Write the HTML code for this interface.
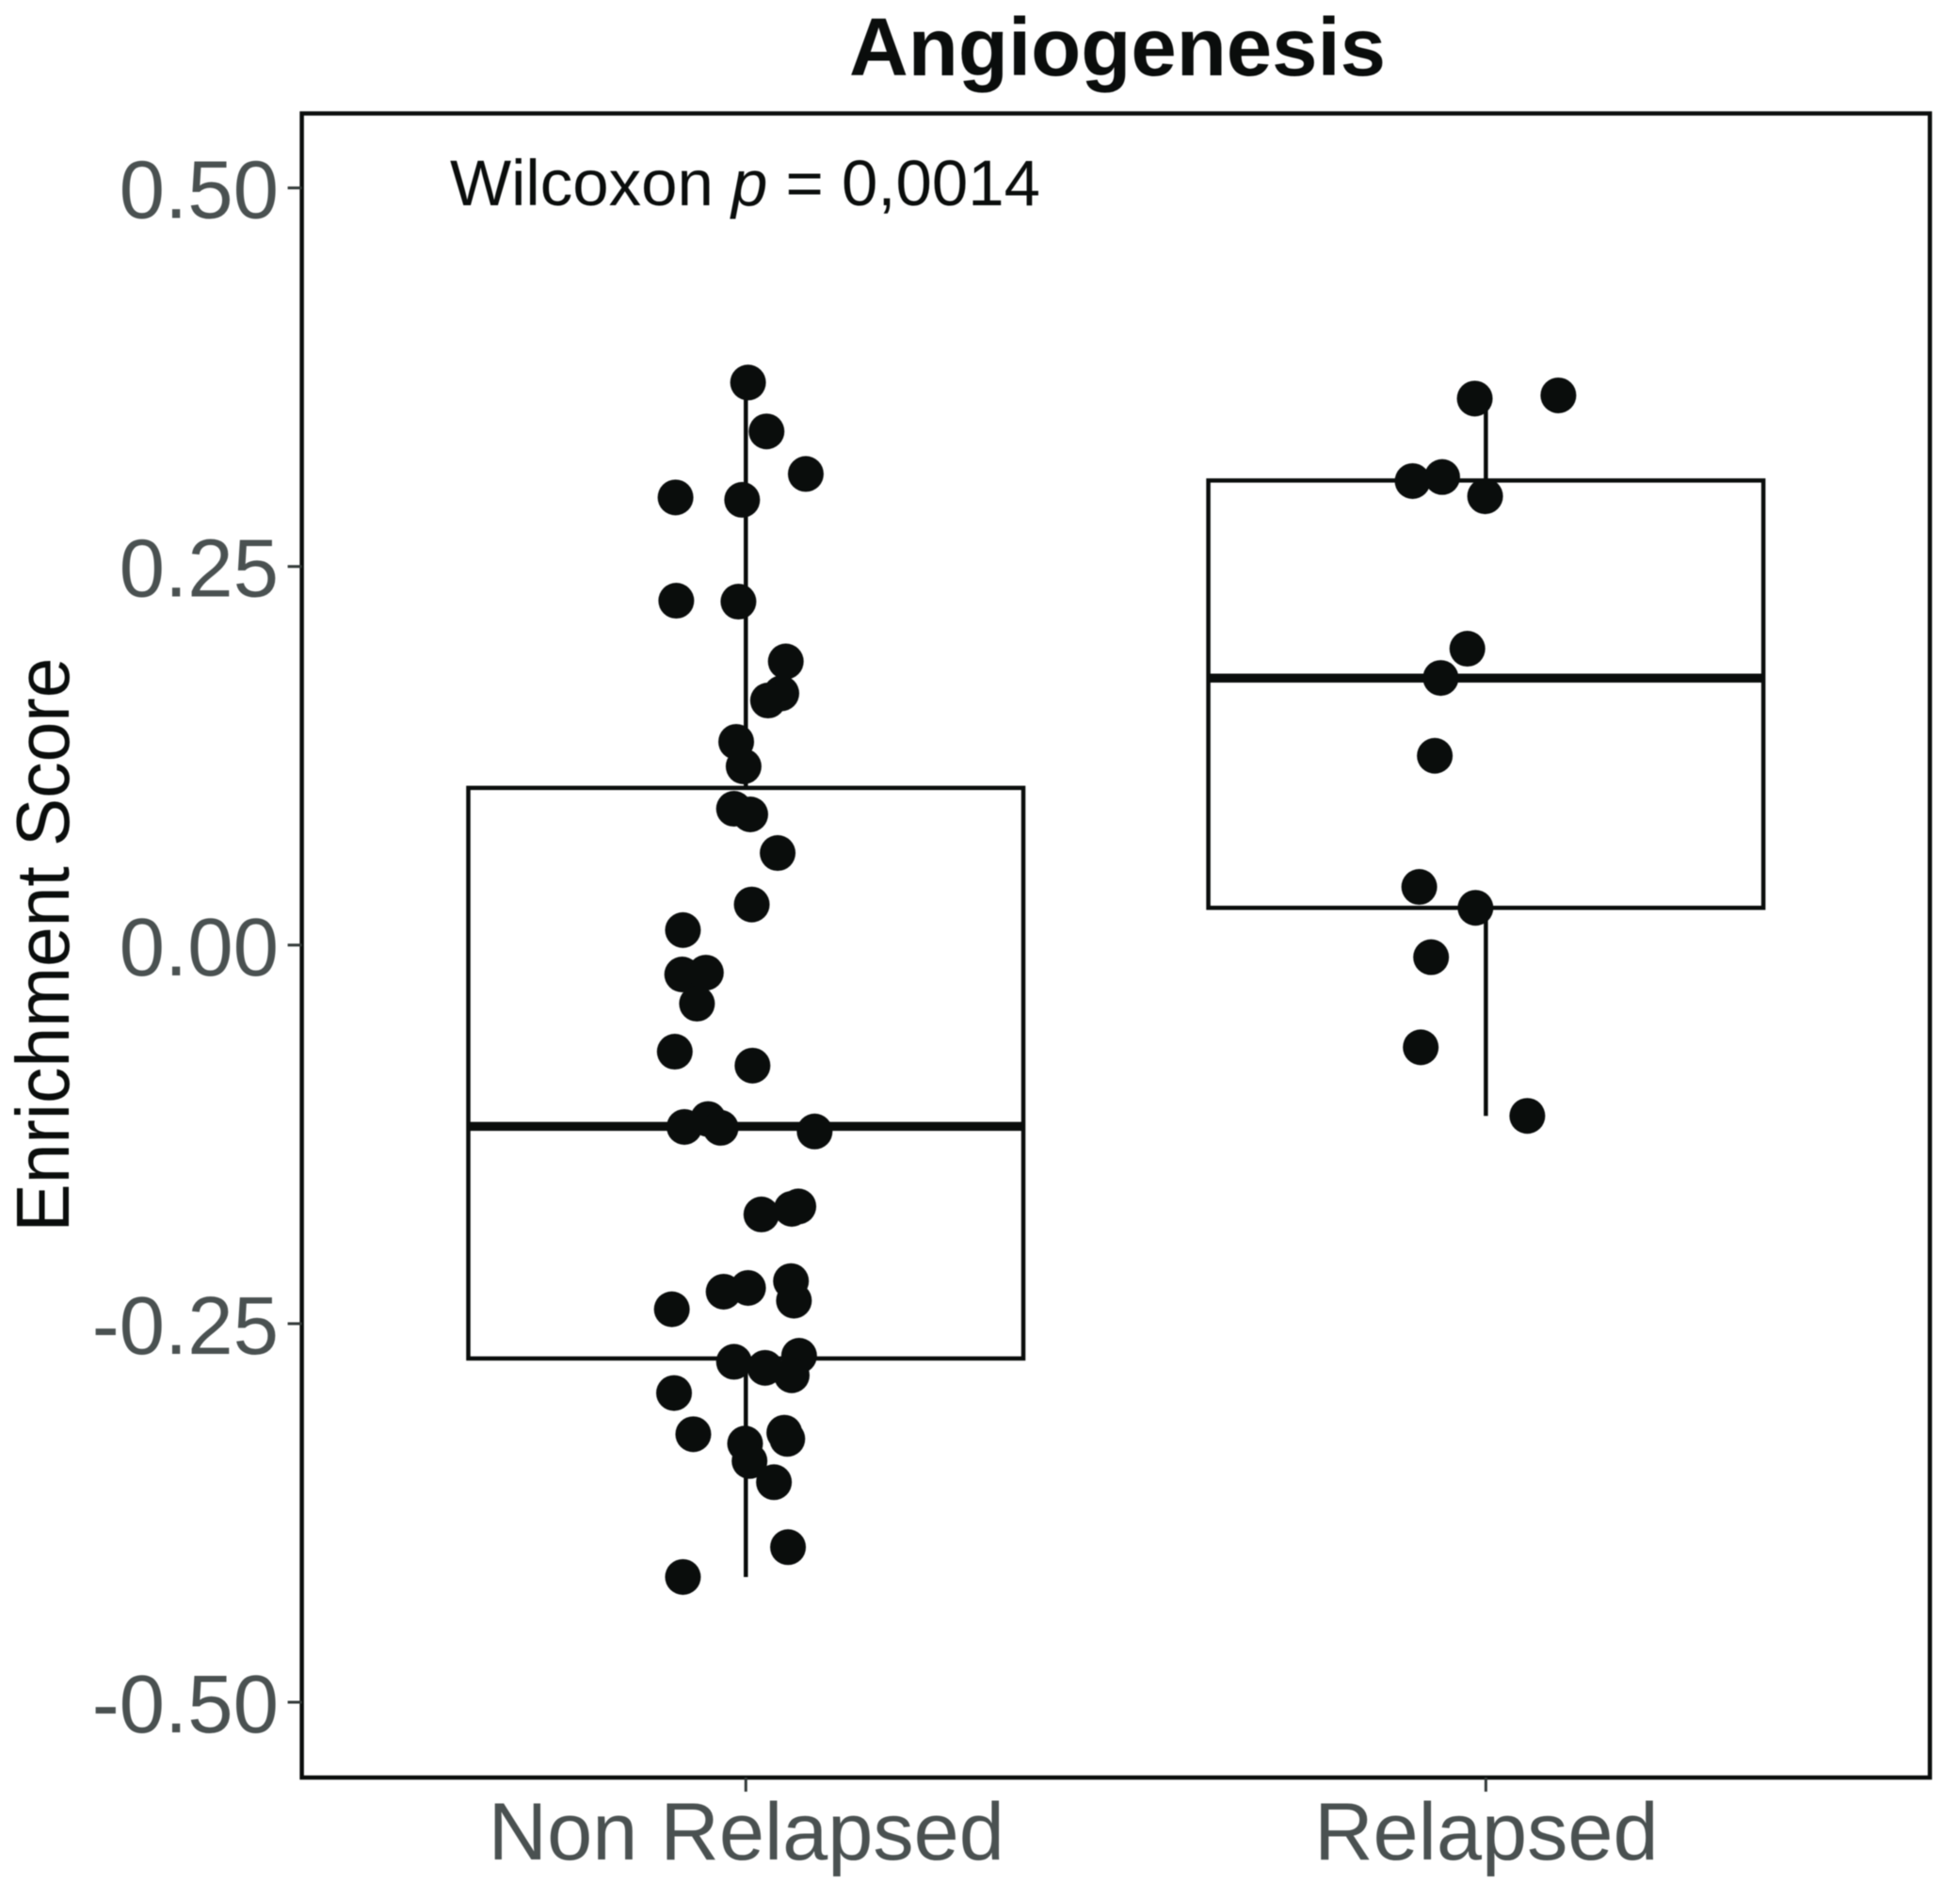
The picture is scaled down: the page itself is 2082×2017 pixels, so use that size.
<!DOCTYPE html>
<html lang="en">
<head>
<meta charset="utf-8">
<title>Angiogenesis</title>
<style>
  html, body { margin: 0; padding: 0; background: #ffffff; }
  svg { display: block; font-family: "Liberation Sans", Arial, sans-serif; filter: blur(0.6px); }
</style>
</head>
<body>
<svg id="chart" xmlns="http://www.w3.org/2000/svg" width="2082" height="2017" viewBox="0 0 2082 2017">
  <rect x="0" y="0" width="2082" height="2017" fill="#ffffff"/>
  <text x="1187" y="80" text-anchor="middle" font-size="87" font-weight="700" fill="#0a0d0c" textLength="570" lengthAdjust="spacingAndGlyphs">Angiogenesis</text>
  <text transform="translate(73,1003.5) rotate(-90)" text-anchor="middle" font-size="80" fill="#0a0d0c" textLength="610" lengthAdjust="spacingAndGlyphs">Enrichment Score</text>
  <text x="478" y="218" font-size="69" fill="#0a0d0c" textLength="627" lengthAdjust="spacingAndGlyphs">Wilcoxon <tspan font-style="italic">p</tspan> = 0,0014</text>
  <g id="boxes"></g>
  <g id="points"></g>
  <g id="axes"></g>
</svg>
<script>
// ---- Data ----
const categories = ["Non Relapsed", "Relapsed"];
const yTickValues = [0.5, 0.25, 0, -0.25, -0.5];
const yTickLabels = ["0.50", "0.25", "0.00", "-0.25", "-0.50"];

const q1Values = [-0.273, 0.0246];
const medianValues = [-0.1197, 0.1763];
const q3Values = [0.1038, 0.3068];
const whiskerLowValues = [-0.4173, -0.1128];
const whiskerHighValues = [0.3715, 0.3609];

const nonRelapsedScores = [0.3715, 0.3392, 0.3111, 0.2956, 0.294, 0.2274, 0.2268, 0.1873, 0.1662, 0.1615,
  0.1342, 0.118, 0.09, 0.0863, 0.0608, 0.0268, 0.0099, -0.0194, -0.0182, -0.0387,
  -0.0704, -0.0796, -0.1201, -0.1149, -0.1207, -0.1231, -0.1779, -0.1726, -0.1742, -0.2289,
  -0.2264, -0.2219, -0.2348, -0.2405, -0.2752, -0.2792, -0.2712, -0.2841, -0.2958, -0.323,
  -0.3292, -0.3407, -0.3547, -0.322, -0.3261, -0.3976, -0.4173];
const nonRelapsedJitter = [0.003, 0.028, 0.081, -0.095, -0.005, -0.094, -0.010, 0.054, 0.048, 0.030,
  -0.013, -0.003, -0.016, 0.006, 0.043, 0.008, -0.085, -0.086, -0.054, -0.066,
  -0.096, 0.009, -0.083, -0.051, -0.034, 0.093, 0.021, 0.071, 0.062, -0.030,
  0.003, 0.061, 0.065, -0.100, -0.016, 0.026, 0.072, 0.062, -0.097, -0.071,
  -0.001, 0.005, 0.038, 0.052, 0.056, 0.057, -0.085];

const relapsedScores = [0.3609, 0.363, 0.3064, 0.3091, 0.2964, 0.1957, 0.1764, 0.125, 0.0384, 0.0246,
  -0.008, -0.0675, -0.1128];
const relapsedJitter = [-0.015, 0.098, -0.099, -0.059, -0.001, -0.025, -0.061, -0.069, -0.090, -0.014,
  -0.074, -0.088, 0.056];

// ---- Axis functions ----
const NS = "http://www.w3.org/2000/svg";
const panelLeft = 320.6, panelRight = 2050, panelTop = 120.5, panelBottom = 1888;
const xUnit = (panelRight - panelLeft) / 2.2;
const yUnit = 1608.4;
const yZero = 1003.8;
const boxWidth = 0.75;
const inkColor = "#0a0d0c";
const tickTextColor = "#4a5151";

function xScale(position) { return panelLeft + (position + 0.6) * xUnit; }
function yScale(value) { return yZero - value * yUnit; }

function svgEl(tag) { return document.createElementNS(NS, tag); }
function setAll(el, props) { for (const k in props) el.setAttribute(k, props[k]); return el; }

const boxLayer = document.getElementById("boxes");
const pointLayer = document.getElementById("points");
const axesLayer = document.getElementById("axes");

// ---- Boxes ----
categories.forEach(function (cat, i) {
  const slug = cat.toLowerCase().replace(/\s+/g, "-");
  const cx = xScale(i);
  const left = xScale(i - boxWidth / 2);
  const right = xScale(i + boxWidth / 2);

  const upper = svgEl("line");
  setAll(upper, { x1: cx, x2: cx, y1: yScale(whiskerHighValues[i]), y2: yScale(q3Values[i]), stroke: inkColor, "stroke-width": 4.5 });
  
  
  boxLayer.appendChild(upper);

  const lower = svgEl("line");
  setAll(lower, { x1: cx, x2: cx, y1: yScale(q1Values[i]), y2: yScale(whiskerLowValues[i]), stroke: inkColor, "stroke-width": 4.5 });
  
  
  boxLayer.appendChild(lower);

  const box = svgEl("rect");
  setAll(box, { x: left, y: yScale(q3Values[i]), width: right - left, height: yScale(q1Values[i]) - yScale(q3Values[i]), fill: "none", stroke: inkColor, "stroke-width": 4.5 });
  
  
  boxLayer.appendChild(box);

  const median = svgEl("line");
  setAll(median, { x1: left, x2: right, y1: yScale(medianValues[i]), y2: yScale(medianValues[i]), stroke: inkColor, "stroke-width": 9.5 });
  
  
  boxLayer.appendChild(median);
});

// ---- Points ----
function drawPoints(scores, jitter, groupIndex, slug) {
  scores.forEach(function (score, j) {
    const dot = svgEl("circle");
    setAll(dot, { cx: xScale(groupIndex + jitter[j]), cy: yScale(score), r: 19, fill: inkColor });
    
    
    pointLayer.appendChild(dot);
  });
}
drawPoints(nonRelapsedScores, nonRelapsedJitter, 0, "non-relapsed");
drawPoints(relapsedScores, relapsedJitter, 1, "relapsed");

// ---- Panel border ----
const border = svgEl("rect");
setAll(border, { x: panelLeft, y: panelTop, width: panelRight - panelLeft, height: panelBottom - panelTop, fill: "none", stroke: inkColor, "stroke-width": 4.5 });


axesLayer.appendChild(border);

// ---- Y axis ----
yTickValues.forEach(function (v, i) {
  const tick = svgEl("line");
  setAll(tick, { x1: panelLeft - 15, x2: panelLeft, y1: yScale(v), y2: yScale(v), stroke: "#333a39", "stroke-width": 3 });
  
  
  axesLayer.appendChild(tick);

  const label = svgEl("text");
  setAll(label, { x: 296, y: yScale(v) + 32, "text-anchor": "end", "font-size": 87, fill: tickTextColor });
  label.textContent = yTickLabels[i];
  
  
  axesLayer.appendChild(label);
});

// ---- X axis ----
categories.forEach(function (cat, i) {
  const tick = svgEl("line");
  setAll(tick, { x1: xScale(i), x2: xScale(i), y1: panelBottom, y2: panelBottom + 15, stroke: "#333a39", "stroke-width": 3 });
  
  
  axesLayer.appendChild(tick);

  const label = svgEl("text");
  setAll(label, { x: xScale(i) + 0.5, y: 1975, "text-anchor": "middle", "font-size": 86.5, fill: tickTextColor });
  label.textContent = cat;
  
  
  axesLayer.appendChild(label);
});
</script>
</body>
</html>
